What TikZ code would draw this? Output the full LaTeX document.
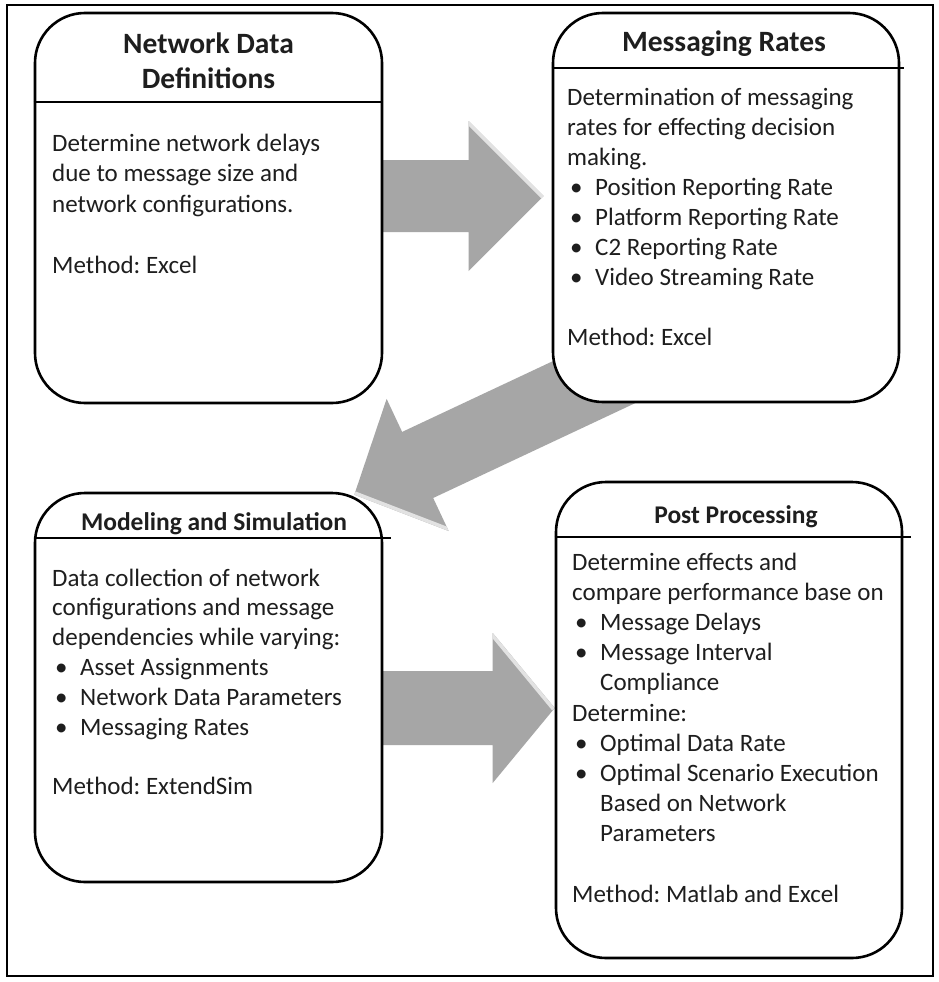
\documentclass[tikz,border=0pt]{standalone}
\usepackage{fontspec}
\setmainfont{Carlito}
\usetikzlibrary{calc}
\pgfdeclarelayer{paper}
\pgfdeclarelayer{arrows}
\pgfsetlayers{paper,arrows,main}
\frenchspacing

\definecolor{arrowgray}{HTML}{A6A6A6}
\definecolor{arrowshine}{HTML}{E2E2E2}
\definecolor{ink}{HTML}{1E1E1E}

\tikzset{
  card/.style 2 args={draw=black, line width=2.6pt, fill=white, rounded corners=50pt,
    minimum width=#1, minimum height=#2, inner sep=0pt},
  divider/.style={draw=black, line width=1.4pt},
  frame/.style={draw=black, line width=2.2pt},
  cardtitle/.style={font=\bfseries\fontsize{29.5}{35}\selectfont, text=ink, inner sep=0pt, align=center},
  smalltitle/.style={font=\bfseries\fontsize{25.5}{30}\selectfont, text=ink, inner sep=0pt},
  bodytext/.style={font=\fontsize{25}{30}\selectfont, text=ink, inner sep=0pt, anchor=base west},
  arrowbody/.style={fill=arrowgray},
  shine/.style={draw=arrowshine, line width=7pt},
}

% bullet item and its continuation line
\newcommand{\bul}[1]{\hspace*{3pt}\makebox[25pt][l]{\textbullet}#1}
\newcommand{\cont}[1]{\hspace*{28pt}#1}

% block arrow: start, tip, shaft half width, head half width, head length
\newcommand{\blockarrow}[5]{%
  \coordinate (ba-h) at ($(#2)!#5!(#1)$);
  \coordinate (ba-s1) at ($(#1)!#3!90:(#2)$);
  \coordinate (ba-s2) at ($(#1)!#3!-90:(#2)$);
  \coordinate (ba-n1) at ($(ba-h)!#3!90:(#2)$);
  \coordinate (ba-n2) at ($(ba-h)!#3!-90:(#2)$);
  \coordinate (ba-b1) at ($(ba-h)!#4!90:(#2)$);
  \coordinate (ba-b2) at ($(ba-h)!#4!-90:(#2)$);
  \fill[arrowbody] (ba-s1) -- (ba-n1) -- (ba-b1) -- (#2) -- (ba-b2) -- (ba-n2) -- (ba-s2) -- cycle;
  \begin{scope}
    \clip (ba-s1) -- (ba-n1) -- (ba-b1) -- (#2) -- (ba-b2) -- (ba-n2) -- (ba-s2) -- cycle;
    \draw[shine] (ba-b1) -- (#2);
  \end{scope}}

\begin{document}
\begin{tikzpicture}[x=1pt,y=-1pt]
\useasboundingbox (0,0) rectangle (939,982);
\begin{pgfonlayer}{paper}
  \fill[white] (0,0) rectangle (939,982);
  \draw[frame] (7,5) rectangle (933,976);
\end{pgfonlayer}

% the four stages
\node[card={347pt}{390pt}] (b1) at (208.5,208) {};
\node[card={346pt}{389pt}] (b2) at (726,207.5) {};
\node[card={347pt}{389pt}] (b3) at (208.5,687.5) {};
\node[card={346pt}{476pt}] (b4) at (729,720) {};

% header dividers
\draw[divider] (b1.west |- 0,102) -- (b1.east |- 0,102);
\draw[divider] (b2.west |- 0,68) -- ($(b2.east |- 0,68)+(4,0)$);
\draw[divider] (b3.west |- 0,538) -- ($(b3.east |- 0,538)+(8,0)$);
\draw[divider] (b4.west |- 0,537) -- ($(b4.east |- 0,537)+(8,0)$);

% titles
\node[cardtitle] (t1) at (208.5,60.5) {Network Data\\Definitions};
\node[cardtitle, anchor=base] (t2) at (724,52) {Messaging Rates};
\node[smalltitle, anchor=base] (t3) at (214,530) {Modeling and Simulation};
\node[smalltitle, anchor=base] (t4) at (736,523) {Post Processing};

% body texts
\foreach \i/\ln in {0/Determine network delays, 1/due to message size and,
    2/network configurations., 4/Method: Excel}
  \node[bodytext] (p1-\i) at (52,151+30.5*\i) {\ln};

\foreach \i/\ln in {0/Determination of messaging, 1/rates for effecting decision,
    2/making., 3/\bul{Position Reporting Rate}, 4/\bul{Platform Reporting Rate},
    5/\bul{C2 Reporting Rate}, 6/\bul{Video Streaming Rate}, 8/Method: Excel}
  \node[bodytext] (p2-\i) at (567,105+30*\i) {\ln};

\foreach \i/\ln in {0/Data collection of network, 1/configurations and message,
    2/dependencies while varying:, 3/\bul{Asset Assignments},
    4/\bul{Network Data Parameters}, 5/\bul{Messaging Rates}, 7/Method: ExtendSim}
  \node[bodytext] (p3-\i) at (52,586+29.8*\i) {\ln};

\foreach \i/\ln in {0/Determine effects and, 1/compare performance base on,
    2/\bul{Message Delays}, 3/\bul{Message Interval}, 4/\cont{Compliance},
    5/Determine:, 6/\bul{Optimal Data Rate}, 7/\bul{Optimal Scenario Execution},
    8/\cont{Based on Network}, 9/\cont{Parameters}, 11/Method: Matlab and Excel}
  \node[bodytext] (p4-\i) at (572,570+30.2*\i) {\ln};

% flow arrows between the stages
\coordinate (a1s) at (b1.center |- 0,196);
\coordinate (a1t) at ($(b2.west |- 0,196)+(-8,0)$);
\coordinate (a2s) at ($(b2.south west)+(92,-44.5)$);
\coordinate (a2t) at ($(b3.north east)+(-29,3)$);
\coordinate (a3s) at (b3.center |- 0,708);
\coordinate (a3t) at (b4.west |- 0,708);
\begin{pgfonlayer}{arrows}
  \blockarrow{a1s}{a1t}{36pt}{75pt}{75pt}
  \blockarrow{a2s}{a2t}{36.5pt}{73pt}{70pt}
  \blockarrow{a3s}{a3t}{37pt}{75pt}{62pt}
\end{pgfonlayer}
\end{tikzpicture}
\end{document}
